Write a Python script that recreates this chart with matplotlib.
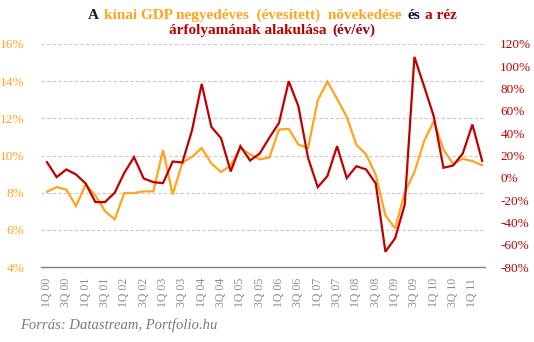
import numpy as np
import matplotlib
matplotlib.use('Agg')
import matplotlib.pyplot as plt
from matplotlib.offsetbox import TextArea, HPacker, VPacker, AnchoredOffsetbox

# quarterly series, 1Q 2000 .. 2Q 2011
gdp = [8.05, 8.30, 8.17, 7.28, 8.44, 7.85, 7.01, 6.56, 7.98, 7.98,
       8.07, 8.07, 10.29, 7.91, 9.61, 9.93, 10.40, 9.57, 9.11, 9.46,
       10.41, 10.06, 9.79, 9.89, 11.40, 11.43, 10.59, 10.40, 12.97, 13.98,
       13.05, 12.08, 10.57, 10.06, 8.95, 6.78, 6.08, 8.00, 9.11, 10.77,
       11.85, 10.32, 9.55, 9.82, 9.70, 9.48]
copper = [14.0, 0.6, 7.5, 3.0, -5.1, -21.8, -21.8, -13.4, 4.5, 18.5,
          -0.6, -3.9, -4.8, 14.6, 13.7, 42.7, 84.2, 45.7, 35.5, 5.7,
          28.4, 15.5, 21.8, 36.0, 49.3, 86.6, 64.2, 17.9, -8.4, 1.5,
          28.4, -0.3, 10.4, 7.5, -5.1, -66.3, -54.3, -23.9, 108.4, 82.1,
          55.2, 9.0, 11.0, 21.8, 47.8, 15.2]
quarters = ['%dQ %02d' % (q, y) for y in range(0, 12) for q in (1, 2, 3, 4)][:len(gdp)]

ORANGE = '#FFA41C'
RED = '#C00000'
GREY = '#8C8C8C'
FONT = 'Liberation Serif'

fig = plt.figure(figsize=(5.34, 3.42), dpi=100)
ax = fig.add_axes([41 / 534, 1 - 267 / 342, 444 / 534, 223 / 342])
ax2 = ax.twinx()

x = np.arange(len(gdp))
ax.plot(x, gdp, color=ORANGE, lw=1.6, solid_joinstyle='miter')
ax2.plot(x, copper, color=RED, lw=1.6, solid_joinstyle='miter')

ax.set_xlim(-0.62, 45.3)
ax.set_ylim(4, 16)
ax2.set_ylim(-80, 120)

ax.set_yticks(np.arange(4, 17, 2))
ax.set_yticklabels(['%d%%' % v for v in range(4, 17, 2)])
ax2.set_yticks(np.arange(-80, 121, 20))
ax2.set_yticklabels(['%d%%' % v for v in range(-80, 121, 20)])

ax.set_xticks(x[::2])
ax.set_xticklabels(quarters[::2], rotation=90)

for a in (ax, ax2):
    for s in a.spines.values():
        s.set_visible(False)
    a.tick_params(length=0)
ax.spines['bottom'].set_visible(True)
ax.spines['bottom'].set_color('#808080')
ax.spines['bottom'].set_linewidth(1.0)

for v in range(6, 17, 2):
    ax.axhline(v, color='#C8C8C8', lw=0.8, ls=(0, (3, 2)), zorder=0)

ax.tick_params(axis='y', colors=ORANGE, pad=12, labelsize=9.5)
ax.tick_params(axis='x', colors=GREY, pad=8, labelsize=8.5)
ax2.tick_params(axis='y', colors=RED, pad=11, labelsize=9.5)
for lab in ax.get_yticklabels() + ax.get_xticklabels() + ax2.get_yticklabels():
    lab.set_fontfamily(FONT)

# two-line title with coloured parts
tp = dict(fontfamily=FONT, fontweight='bold', fontsize=11)
line1 = HPacker(children=[
    TextArea('A', textprops=dict(color='#1A1A1A', **tp)),
    TextArea('kínai GDP negyedéves  (évesített)  növekedése', textprops=dict(color=ORANGE, **tp)),
    TextArea('és', textprops=dict(color='#0A0A2A', **tp)),
    TextArea('a réz', textprops=dict(color=RED, **tp)),
], sep=4, pad=0)
line2 = HPacker(children=[
    TextArea('árfolyamának alakulása', textprops=dict(color=RED, **tp)),
    TextArea('(év/év)', textprops=dict(color='#A00018', **tp)),
], sep=4, pad=0)
title = VPacker(children=[line1, line2], align='center', sep=1, pad=0)
box = AnchoredOffsetbox(loc='upper center', child=title, frameon=False,
                        bbox_to_anchor=(0.51, 0.975), bbox_transform=fig.transFigure,
                        borderpad=0, pad=0)
fig.add_artist(box)

fig.text(20 / 534, 1 - 325 / 342, 'Forrás: Datastream, Portfolio.hu', color='#7A7A7A',
         fontfamily=FONT, fontstyle='italic', fontsize=10.5, va='center', ha='left')

fig.savefig('out.png', dpi=100, facecolor='white')
